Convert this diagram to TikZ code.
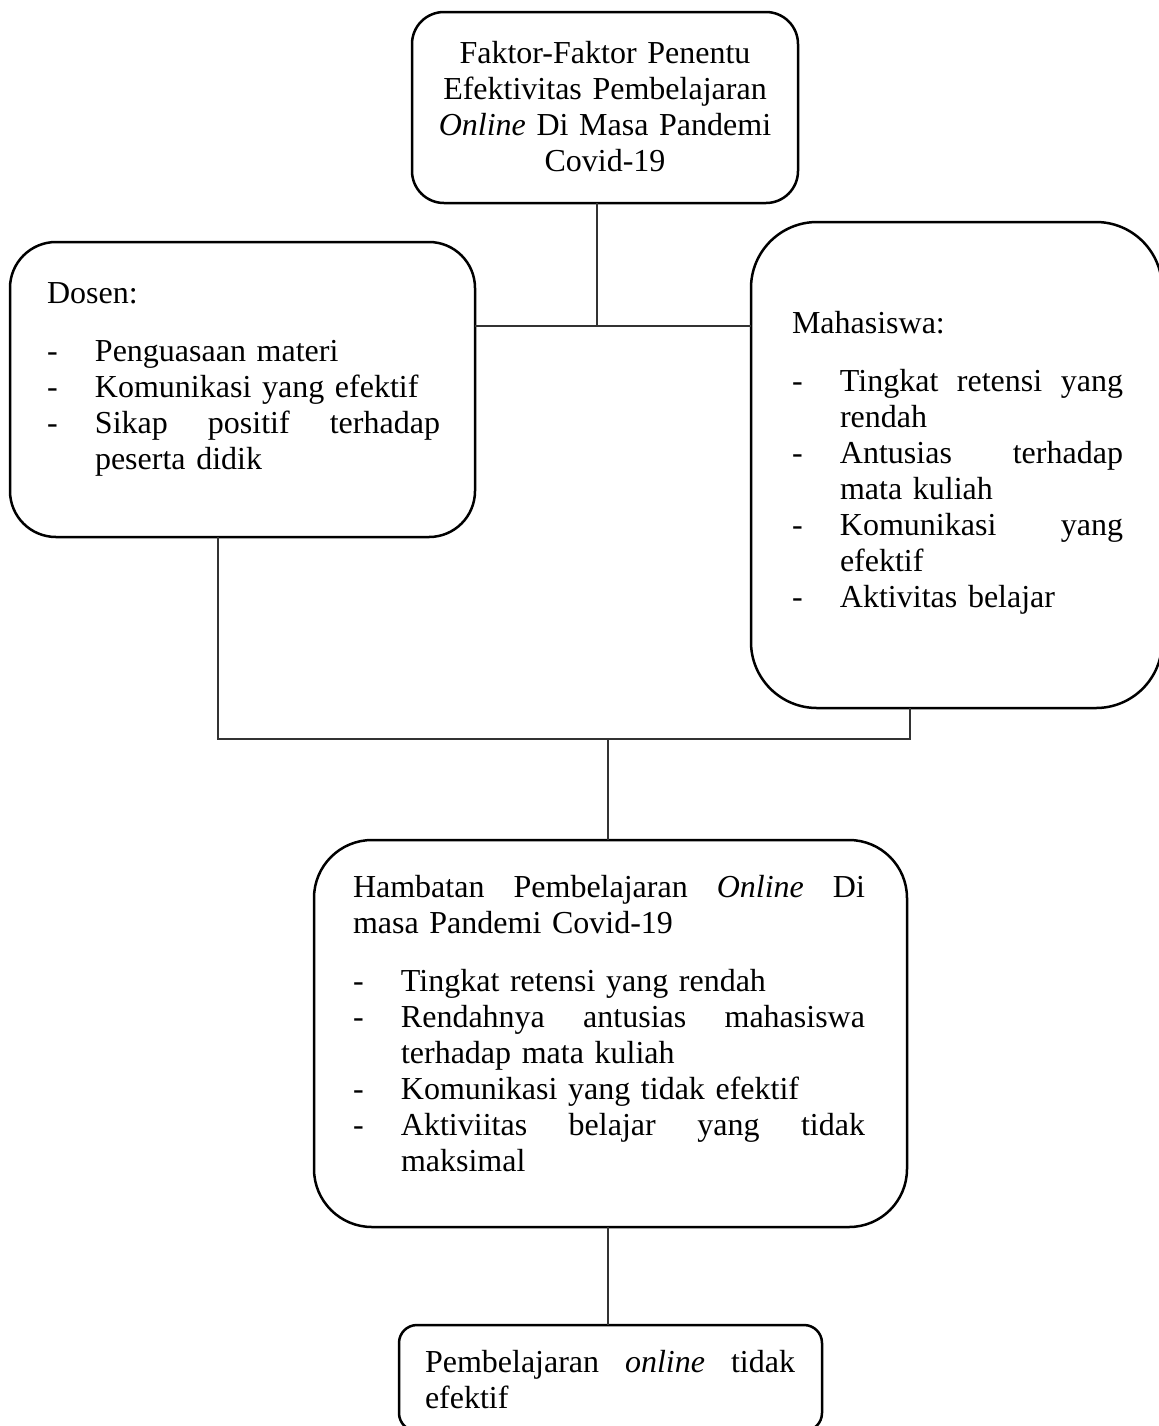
\documentclass[tikz,border=0pt]{standalone}
\usepackage{fontspec}
\setmainfont{Liberation Serif}
\newcommand{\dsh}{\makebox[24pt][l]{-}}
\newcommand{\ind}{\hspace*{24pt}}
\newcommand{\jst}[2]{\makebox[#1][l]{#2}}
\begin{document}
\begin{tikzpicture}[x=0.5pt,y=-0.5pt,
  box/.style={draw, line width=1.25pt, inner sep=0pt, outer sep=0pt, anchor=north west},
  txt/.style={inner sep=0pt, outer sep=0pt, anchor=base west, align=left, font=\fontsize{16pt}{18pt}\selectfont},
  link/.style={line width=0.75pt, draw=black!80}]
\useasboundingbox (0,0) rectangle (1159,1426);

% boxes
\node[box, minimum width=193pt, minimum height=95.5pt, rounded corners=16pt] (top) at (412,12) {};
\node[box, minimum width=232.5pt, minimum height=147.5pt, rounded corners=23pt] (left) at (10,242) {};
\node[box, minimum width=205.5pt, minimum height=243pt, rounded corners=33pt] (right) at (751,222) {};
\node[box, minimum width=296.5pt, minimum height=193.5pt, rounded corners=29pt] (mid) at (314,840) {};
\node[box, minimum width=211.5pt, minimum height=53pt, rounded corners=9pt] (final) at (399,1325) {};

% texts
\node[txt, anchor=base, text width=193pt, align=center] (toptext) at (605,63)
  {Faktor-Faktor Penentu\\ Efektivitas Pembelajaran\\ \emph{Online} Di Masa Pandemi\\ Covid-19};

\node[txt, text width=196.5pt] (lefttext) at (47,303)
  {Dosen:\\[11pt]
   \dsh Penguasaan materi\\
   \dsh Komunikasi yang efektif\\
   \dsh\jst{172.5pt}{Sikap\hfill positif\hfill terhadap}\\
   \ind peserta didik};

\node[txt, text width=165.5pt] (righttext) at (792,333)
  {Mahasiswa:\\[11pt]
   \dsh\jst{141.5pt}{Tingkat\hfill retensi\hfill yang}\\
   \ind rendah\\
   \dsh\jst{141.5pt}{Antusias\hfill terhadap}\\
   \ind mata kuliah\\
   \dsh\jst{141.5pt}{Komunikasi\hfill yang}\\
   \ind efektif\\
   \dsh Aktivitas belajar};

\node[txt, text width=256pt] (midtext) at (353,897)
  {\jst{256pt}{Hambatan\hfill Pembelajaran\hfill \emph{Online}\hfill Di}\\
   masa Pandemi Covid-19\\[11pt]
   \dsh Tingkat retensi yang rendah\\
   \dsh\jst{232pt}{Rendahnya\hfill antusias\hfill mahasiswa}\\
   \ind terhadap mata kuliah\\
   \dsh Komunikasi yang tidak efektif\\
   \dsh\jst{232pt}{Aktiviitas\hfill belajar\hfill yang\hfill tidak}\\
   \ind maksimal};

\node[txt, text width=185pt] (finaltext) at (425,1372)
  {\jst{185pt}{Pembelajaran\hfill \emph{online}\hfill tidak}\\
   efektif};

% connectors
\coordinate (j1) at (597,326);
\coordinate (j2) at (218,739);
\coordinate (j3) at (910,739);
\coordinate (j4) at (608,739);
\draw[link] (top.south -| j1) -- (j1);
\draw[link] (left.east |- j1) -- (right.west |- j1);
\draw[link] (left.south -| j2) -- (j2) -- (j3) -- (right.south -| j3);
\draw[link] (j4) -- (mid.north -| j4);
\draw[link] (mid.south -| j4) -- (final.north -| j4);
\end{tikzpicture}
\end{document}
